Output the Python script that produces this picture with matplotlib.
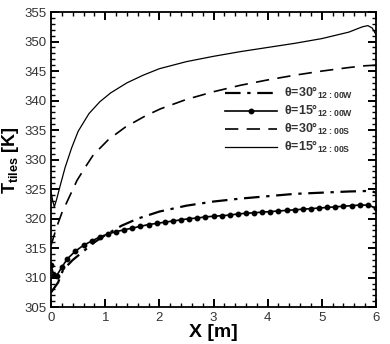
"""Tiles temperature along X for two angles and two times."""

import matplotlib

matplotlib.use("Agg")
import matplotlib.pyplot as plt
from matplotlib.ticker import MultipleLocator

plt.rcParams["font.family"] = ["Liberation Sans", "DejaVu Sans"]
plt.rcParams["mathtext.fontset"] = "custom"
plt.rcParams["mathtext.rm"] = "Liberation Sans"

# theta=30, 12:00W (dash-dot)
x_30w = [0.0, 0.13, 0.22, 0.4, 0.6, 0.8, 1.0, 1.3, 1.6, 2.0, 2.5, 3.0, 3.5, 4.0, 4.5, 5.0, 5.5, 5.9, 6.0]
t_30w = [307.5, 309.2, 311.3, 313.0, 314.5, 316.0, 317.2, 318.8, 320.0, 321.2, 322.2, 322.9,
         323.4, 323.8, 324.2, 324.4, 324.6, 324.7, 324.4]

# theta=15, 12:00W (solid with dots)
x_15w = [0.0, 0.05, 0.1, 0.2, 0.3, 0.45, 0.6, 0.75, 0.9, 1.05, 1.2, 1.35, 1.5, 1.65, 1.8, 1.95,
         2.1, 2.25, 2.4, 2.55, 2.7, 2.85, 3.0, 3.15, 3.3, 3.45, 3.6, 3.75, 3.9, 4.05, 4.2, 4.35,
         4.5, 4.65, 4.8, 4.95, 5.1, 5.25, 5.4, 5.55, 5.7, 5.85, 6.0]
t_15w = [312.1, 310.4, 310.3, 311.8, 313.2, 314.5, 315.5, 316.2, 316.9, 317.4, 317.8, 318.1,
         318.4, 318.7, 319.0, 319.2, 319.4, 319.6, 319.8, 320.0, 320.1, 320.3, 320.4, 320.5,
         320.6, 320.8, 320.9, 321.0, 321.1, 321.2, 321.3, 321.4, 321.5, 321.6, 321.7, 321.8,
         321.9, 322.0, 322.1, 322.2, 322.3, 322.3, 321.8]

# theta=30, 12:00S (dashed)
x_30s = [0.0, 0.1, 0.2, 0.48, 0.63, 0.78, 1.06, 1.37, 1.74, 2.02, 2.5, 3.0, 3.5, 4.0, 4.5, 5.0, 5.5, 5.8, 6.0]
t_30s = [315.5, 318.5, 321.0, 326.5, 328.7, 330.8, 333.4, 335.5, 337.4, 338.6, 340.2, 341.5,
         342.6, 343.5, 344.3, 345.0, 345.6, 345.9, 346.0]

# theta=15, 12:00S (solid)
x_15s = [0.0, 0.03, 0.06, 0.1, 0.18, 0.26, 0.38, 0.5, 0.7, 0.9, 1.1, 1.4, 1.7, 2.0, 2.5, 3.0,
         3.5, 4.0, 4.5, 5.0, 5.5, 5.75, 5.85, 5.93, 6.0]
t_15s = [324.5, 323.0, 322.0, 323.2, 326.0, 328.7, 332.0, 334.8, 337.8, 339.8, 341.3, 343.0,
         344.3, 345.4, 346.6, 347.5, 348.3, 349.0, 349.7, 350.5, 351.6, 352.5, 352.7, 352.3, 351.2]

labels = [r"θ=30°$_{\mathregular{12{:}00W}}$", r"θ=15°$_{\mathregular{12{:}00W}}$",
          r"θ=30°$_{\mathregular{12{:}00S}}$", r"θ=15°$_{\mathregular{12{:}00S}}$"]

fig = plt.figure(figsize=(3.9, 3.44), dpi=100)
ax = fig.add_axes([0.131, 0.107, 0.833, 0.858])

ax.plot(x_30w, t_30w, color="black", lw=1.6, dashes=(7, 3, 1.5, 3), label=labels[0])
ax.plot(x_15w, t_15w, color="black", lw=1.2, marker="o", ms=3.2, label=labels[1])
ax.plot(x_30s, t_30s, color="black", lw=1.2, dashes=(8, 5), label=labels[2])
ax.plot(x_15s, t_15s, color="black", lw=0.9, label=labels[3])

ax.set_xlim(0, 6)
ax.set_ylim(305, 355)
ax.xaxis.set_major_locator(MultipleLocator(1))
ax.xaxis.set_minor_locator(MultipleLocator(0.2))
ax.yaxis.set_major_locator(MultipleLocator(5))
ax.yaxis.set_minor_locator(MultipleLocator(1))
ax.tick_params(which="both", direction="in", top=True, right=True, labelsize=9.5,
               labelcolor="#333333", width=1.0)
ax.tick_params(which="major", length=6, width=1.4)
ax.tick_params(which="minor", length=3)
for s in ax.spines.values():
    s.set_linewidth(1.3)

ax.set_xlabel("X [m]", fontsize=14, fontweight="bold", labelpad=0)
ax.set_ylabel(r"T$_{\mathregular{tiles}}$ [K]", fontsize=13, fontweight="bold", labelpad=2)

leg = ax.legend(loc="upper left", bbox_to_anchor=(0.5, 0.79), frameon=False, fontsize=9,
                handlelength=4.2, handletextpad=0.5, labelspacing=0.15, numpoints=1)
for t in leg.get_texts():
    t.set_color("#333333")
    t.set_fontweight("bold")

fig.savefig("out.png", dpi=100)
